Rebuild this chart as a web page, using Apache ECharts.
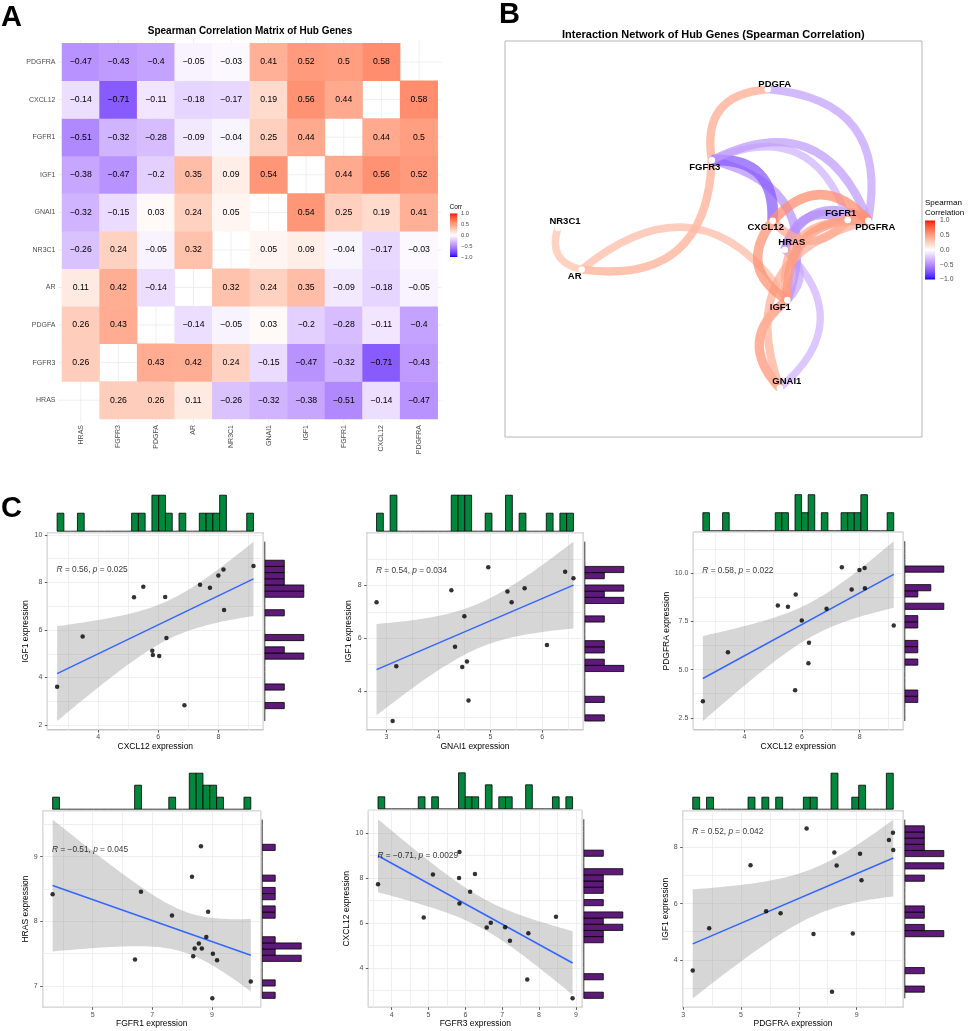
<!DOCTYPE html>
<html><head><meta charset="utf-8"><title>Hub genes</title>
<script src="https://cdn.jsdelivr.net/npm/echarts@6.0.0/dist/echarts.min.js"></script>
<style>html,body{margin:0;padding:0;background:#fff;}#chart{width:969px;height:1031px;}</style>
</head><body><div id="chart"></div>
<script>
// ================= DATA =================
const genes = ['HRAS','FGFR3','PDGFA','AR','NR3C1','GNAI1','IGF1','FGFR1','CXCL12','PDGFRA'];
// Spearman correlation rows (same gene order as columns), null on diagonal
const corrHRAS   = [null, 0.26, 0.26, 0.11, -0.26, -0.32, -0.38, -0.51, -0.14, -0.47];
const corrFGFR3  = [0.26, null, 0.43, 0.42, 0.24, -0.15, -0.47, -0.32, -0.71, -0.43];
const corrPDGFA  = [0.26, 0.43, null, -0.14, -0.05, 0.03, -0.2, -0.28, -0.11, -0.4];
const corrAR     = [0.11, 0.42, -0.14, null, 0.32, 0.24, 0.35, -0.09, -0.18, -0.05];
const corrNR3C1  = [-0.26, 0.24, -0.05, 0.32, null, 0.05, 0.09, -0.04, -0.17, -0.03];
const corrGNAI1  = [-0.32, -0.15, 0.03, 0.24, 0.05, null, 0.54, 0.25, 0.19, 0.41];
const corrIGF1   = [-0.38, -0.47, -0.2, 0.35, 0.09, 0.54, null, 0.44, 0.56, 0.52];
const corrFGFR1  = [-0.51, -0.32, -0.28, -0.09, -0.04, 0.25, 0.44, null, 0.44, 0.5];
const corrCXCL12 = [-0.14, -0.71, -0.11, -0.18, -0.17, 0.19, 0.56, 0.44, null, 0.58];
const corrPDGFRA = [-0.47, -0.43, -0.4, -0.05, -0.03, 0.41, 0.52, 0.5, 0.58, null];
const corrRows = [corrHRAS, corrFGFR3, corrPDGFA, corrAR, corrNR3C1, corrGNAI1, corrIGF1, corrFGFR1, corrCXCL12, corrPDGFRA];
const corrLegendTicks = [1.0, 0.5, 0.0, -0.5, -1.0];
const edgeThreshold = 0.3;
// network layout coordinates (layout units 0-100), gene order as `genes`
const layoutX = [67.1, 49.6, 63.0, 18.4, 12.7, 65.9, 67.7, 82.2, 64.2, 87.1];
const layoutY = [47.3, 69.9, 87.8, 42.3, 52.8, 12.4, 34.6, 54.8, 54.6, 54.6];

// scatter panels: expression values of the 16 samples
const p1x = [2.63, 3.48, 5.19, 5.50, 5.80, 5.82, 6.03, 6.23, 6.27, 6.87, 7.39, 7.72, 8.00, 8.17, 8.19, 9.17]; // CXCL12
const p1y = [3.61, 5.73, 7.38, 7.82, 5.13, 4.95, 4.91, 7.39, 5.66, 2.83, 7.91, 7.78, 8.29, 8.55, 6.84, 8.69]; // IGF1
const p2x = [2.81, 3.12, 3.19, 4.25, 4.32, 4.50, 4.46, 4.55, 4.58, 4.96, 5.33, 5.41, 5.66, 6.09, 6.44, 6.60]; // GNAI1
const p2y = [7.36, 2.86, 4.94, 7.82, 5.67, 6.83, 4.91, 5.12, 3.64, 8.69, 7.77, 7.36, 7.89, 5.74, 8.52, 8.27]; // IGF1
const p3x = [2.56, 3.43, 5.16, 5.51, 5.78, 5.76, 5.99, 6.22, 6.24, 6.85, 7.38, 7.72, 7.99, 8.17, 8.18, 9.18]; // CXCL12
const p3y = [3.36, 5.90, 8.33, 8.26, 8.90, 3.93, 7.55, 5.33, 6.40, 8.16, 10.31, 9.16, 10.17, 10.28, 9.22, 7.29]; // PDGFRA
const p4x = [3.66, 6.42, 6.62, 7.66, 8.33, 8.37, 8.42, 8.56, 8.66, 8.63, 8.81, 8.87, 9.03, 9.01, 9.17, 10.30]; // FGFR1
const p4y = [8.42, 7.41, 8.46, 8.09, 8.69, 7.46, 7.58, 7.66, 7.58, 9.16, 7.76, 8.15, 7.50, 6.81, 7.40, 7.07]; // HRAS
const p5x = [3.63, 4.87, 5.12, 5.83, 5.84, 5.84, 6.13, 6.26, 6.58, 6.69, 7.08, 7.21, 7.68, 7.71, 8.46, 8.91]; // FGFR3
const p5y = [7.72, 6.24, 8.15, 8.00, 9.16, 6.86, 7.39, 8.18, 5.79, 6.00, 5.81, 5.20, 3.48, 5.54, 6.27, 2.64]; // CXCL12
const p6x = [3.33, 3.90, 5.33, 5.87, 6.37, 7.27, 7.51, 8.15, 8.23, 8.31, 8.87, 9.12, 9.17, 10.12, 10.26, 10.27]; // PDGFRA
const p6y = [3.62, 5.12, 7.37, 5.73, 5.66, 8.68, 4.92, 2.86, 7.82, 7.36, 4.94, 7.78, 6.83, 8.27, 8.53, 7.91]; // IGF1
// tick labels
const p1xTicks = [4, 6, 8], p1yTicks = [2, 4, 6, 8, 10];
const p2xTicks = [3, 4, 5, 6], p2yTicks = [4, 6, 8, 10];
const p3xTicks = [4, 6, 8], p3yTicks = [2.5, 5.0, 7.5, 10.0];
const p4xTicks = [5, 7, 9], p4yTicks = [7, 8, 9];
const p5xTicks = [4, 5, 6, 7, 8, 9], p5yTicks = [4, 6, 8, 10];
const p6xTicks = [3, 5, 7, 9], p6yTicks = [4, 6, 8];
// correlation statistics printed in each panel
const statR = [0.56, 0.54, 0.58, -0.51, -0.71, 0.52];
const statP = ['0.025', '0.034', '0.022', '0.045', '0.0029', '0.042'];
const xNames = ['CXCL12 expression', 'GNAI1 expression', 'CXCL12 expression', 'FGFR1 expression', 'FGFR3 expression', 'PDGFRA expression'];
const yNames = ['IGF1 expression', 'IGF1 expression', 'PDGFRA expression', 'HRAS expression', 'CXCL12 expression', 'IGF1 expression'];

// ================= STYLE =================
const FONT = '"Liberation Sans", Arial, Helvetica, sans-serif';
const GREEN = '#00873E', PURPLE = '#5E1A78';
const labelDir = {PDGFA:[1,-0.75], FGFR3:[-1,1], NR3C1:[1,-1], AR:[-1,1], CXCL12:[-1,1], HRAS:[1,-1], FGFR1:[-1,-1], PDGFRA:[1,1], IGF1:[-1,1], GNAI1:[1,-1]};
const panelBoxes = [
  [47.3, 532.7, 216.0, 197.3], [366.7, 532.7, 216.6, 197.3], [693.3, 532.2, 210.0, 197.8],
  [42.7, 810.7, 218.0, 196.6], [368.3, 810.3, 214.0, 197.0], [682.7, 810.7, 220.6, 196.6]
];

// ---- ggplot-like diverging colour scale (Lab interpolation blue-white-red) ----
function rgbToLab(c){
  const lin = v => { v/=255; return v<=0.04045 ? v/12.92 : Math.pow((v+0.055)/1.055, 2.4); };
  const R=lin(c[0]), G=lin(c[1]), B=lin(c[2]);
  const X=(0.4124564*R+0.3575761*G+0.1804375*B)/0.95047, Y=0.2126729*R+0.7151522*G+0.0721750*B, Z=(0.0193339*R+0.1191920*G+0.9503041*B)/1.08883;
  const f = t => t>0.008856 ? Math.cbrt(t) : 7.787*t+16/116;
  return [116*f(Y)-16, 500*(f(X)-f(Y)), 200*(f(Y)-f(Z))];
}
function labToRgb(l){
  const fy=(l[0]+16)/116, fx=fy+l[1]/500, fz=fy-l[2]/200;
  const fi = t => t*t*t>0.008856 ? t*t*t : (t-16/116)/7.787;
  const X=fi(fx)*0.95047, Y=fi(fy), Z=fi(fz)*1.08883;
  const R=3.2404542*X-1.5371385*Y-0.4985314*Z, G=-0.9692660*X+1.8760108*Y+0.0415560*Z, B=0.0556434*X-0.2040259*Y+1.0572252*Z;
  const g = v => { v = v<=0.0031308 ? 12.92*v : 1.055*Math.pow(v,1/2.4)-0.055; return Math.round(Math.max(0,Math.min(1,v))*255); };
  return [g(R),g(G),g(B)];
}
const LAB_LOW = rgbToLab([0,0,255]), LAB_MID = rgbToLab([255,255,255]), LAB_HIGH = rgbToLab([255,0,0]);
function corrColor(v, alpha){
  const t = Math.min(1, Math.abs(v)), end = v<0 ? LAB_LOW : LAB_HIGH;
  const c = labToRgb(LAB_MID.map((m,i)=>m+(end[i]-m)*t));
  return alpha==null ? `rgb(${c[0]},${c[1]},${c[2]})` : `rgba(${c[0]},${c[1]},${c[2]},${alpha})`;
}
const NSTOP = 40;
const scaleColors = []; for (let k=0;k<=NSTOP;k++) scaleColors.push(corrColor(-1+2*k/NSTOP));
function gradient(){ const s=[]; for(let k=0;k<=NSTOP;k++) s.push({offset:k/NSTOP, color:corrColor(1-2*k/NSTOP)}); return new echarts.graphic.LinearGradient(0,0,0,1,s); }
const fmtNum = v => String(v).replace('-', '\u2212');

// ---- statistics helpers (lm fit + 95% CI, ggplot-style bins) ----
function tQuantile975(df){
  const z=1.959963985, z3=z**3, z5=z**5, z7=z**7;
  return z + (z3+z)/(4*df) + (5*z5+16*z3+3*z)/(96*df*df) + (3*z7+19*z5+17*z3-15*z)/(384*df**3);
}
function fitLM(xs, ys){
  const n=xs.length, mx=xs.reduce((a,b)=>a+b,0)/n, my=ys.reduce((a,b)=>a+b,0)/n;
  let sxx=0, sxy=0; xs.forEach((x,i)=>{sxx+=(x-mx)**2; sxy+=(x-mx)*(ys[i]-my);});
  const b=sxy/sxx, a=my-b*mx; let sse=0; xs.forEach((x,i)=>{sse+=(ys[i]-a-b*x)**2;});
  const s=Math.sqrt(sse/(n-2)), t=tQuantile975(n-2);
  const xmin=Math.min(...xs), xmax=Math.max(...xs), band=[];
  for(let k=0;k<80;k++){ const x=xmin+(xmax-xmin)*k/79, yh=a+b*x, se=s*Math.sqrt(1/n+(x-mx)**2/sxx); band.push([x, yh-t*se, yh+t*se]); }
  return {a,b,band,xmin,xmax};
}
function histBins(vals, lo, hi){
  const nb=29, w=(hi-lo)/nb, counts=new Array(nb).fill(0);
  vals.forEach(v=>{ let k=Math.ceil((v-lo)/w-1e-9)-1; k=Math.max(0,Math.min(nb-1,k)); counts[k]++; });
  return counts.map((c,k)=>[lo+k*w, lo+(k+1)*w, c]);
}
const mctx = document.createElement('canvas').getContext('2d');
function textW(t, size){ mctx.font = size+'px '+FONT; return mctx.measureText(t).width; }

// ================= OPTION =================
const option = { animation:false, backgroundColor:'#fff', textStyle:{fontFamily:FONT},
  grid:[], xAxis:[], yAxis:[], series:[], graphic:[], visualMap:[] };

// ---------- Panel A: heatmap ----------
option.grid.push({left:62, top:43.3, width:375.7, height:375.7});
option.xAxis.push({type:'category', gridIndex:0, data:genes, axisLine:{show:false}, axisTick:{show:false}, splitLine:{show:false},
  axisLabel:{rotate:90, fontSize:7, color:'#4D4D4D', margin:6}});
option.yAxis.push({type:'category', gridIndex:0, data:genes, axisLine:{show:false}, axisTick:{show:false}, splitLine:{show:false},
  axisLabel:{fontSize:7, color:'#4D4D4D', margin:6.5}});
const heatData=[]; corrRows.forEach((row,i)=>row.forEach((v,j)=>{ if(v!==null) heatData.push([j,i,v]); }));
option.series.push({type:'heatmap', xAxisIndex:0, yAxisIndex:0, data:heatData, silent:true, z:2,
  label:{show:true, fontSize:8.7, color:'#000', formatter:p=>fmtNum(p.value[2])}});
option.visualMap.push({type:'continuous', show:false, min:-1, max:1, seriesIndex:0, dimension:2, inRange:{color:scaleColors}});
// faint theme_minimal grid lines through category centres (under the tiles)
option.series.push({type:'custom', xAxisIndex:0, yAxisIndex:0, silent:true, z:1, clip:false,
  data:genes.map((g,i)=>[i,i]),
  renderItem:(p,api)=>{ const c=api.coord([api.value(0),api.value(1)]), cs=p.coordSys, ex=cs.width/genes.length*0.1;
    const st={stroke:'#EBEBEB', lineWidth:0.8};
    return {type:'group', children:[
      {type:'line', shape:{x1:c[0], y1:cs.y-ex, x2:c[0], y2:cs.y+cs.height+ex}, style:st},
      {type:'line', shape:{x1:cs.x-ex, y1:c[1], x2:cs.x+cs.width+ex, y2:c[1]}, style:st}]}; }});

// ---------- Panel B: network ----------
option.grid.push({left:505, top:41, width:417, height:396, show:true, borderColor:'#B5B5B5', borderWidth:1});
option.xAxis.push({type:'value', gridIndex:1, min:0, max:100, show:false});
option.yAxis.push({type:'value', gridIndex:1, min:0, max:100, show:false});
const nodes = genes.map((g,i)=>({name:g, value:[layoutX[i], layoutY[i]], label:{offset:[labelDir[g][0]*7, labelDir[g][1]*7]}}));
const links = [];
for(let i=0;i<genes.length;i++) for(let j=i+1;j<genes.length;j++){
  const r = corrRows[i][j];
  if(r!==null && Math.abs(r)>=edgeThreshold) links.push({source:genes[i], target:genes[j], value:r,
    lineStyle:{color:corrColor(r), width:4.5+9*Math.abs(r), curveness:0.55, opacity:0.74}});
}
option.series.push({type:'graph', coordinateSystem:'cartesian2d', xAxisIndex:1, yAxisIndex:1, data:nodes, links,
  symbolSize:6.5, itemStyle:{color:'#fff'}, silent:true, edgeSymbol:['none','none'],
  label:{show:true, position:'inside', fontSize:9.5, fontWeight:'bold', color:'#000', fontFamily:FONT}});

// ---------- Panel C: scatter plots with marginal histograms ----------
const pxs=[p1x,p2x,p3x,p4x,p5x,p6x], pys=[p1y,p2y,p3y,p4y,p5y,p6y];
const xTicksAll=[p1xTicks,p2xTicks,p3xTicks,p4xTicks,p5xTicks,p6xTicks], yTicksAll=[p1yTicks,p2yTicks,p3yTicks,p4yTicks,p5yTicks,p6yTicks];
function tickFmt(ticks){ const dec = ticks.some(t=>!Number.isInteger(t)) ? 1 : 0; return v => dec ? v.toFixed(1) : String(v); }

pxs.forEach((xs,k)=>{
  const ys=pys[k], [L,T,W,H]=panelBoxes[k], fit=fitLM(xs,ys);
  const xLo=fit.xmin, xHi=fit.xmax;
  const yLo=Math.min(...ys, ...fit.band.map(b=>b[1])), yHi=Math.max(...ys, ...fit.band.map(b=>b[2]));
  const xMin=xLo-0.05*(xHi-xLo), xMax=xHi+0.05*(xHi-xLo), yMin=yLo-0.05*(yHi-yLo), yMax=yHi+0.05*(yHi-yLo);
  const xt=xTicksAll[k], yt=yTicksAll[k], xf=tickFmt(xt), yf=tickFmt(yt);
  const yLabW=Math.max(...yt.map(v=>textW(yf(v),7)));

  const gi=option.grid.length;
  option.grid.push({left:L, top:T, width:W, height:H, show:true, backgroundColor:'#fff', borderColor:'#8C8C8C', borderWidth:1});
  const xm=option.xAxis.length, ym=option.yAxis.length;
  option.xAxis.push({type:'value', gridIndex:gi, min:xMin, max:xMax, position:'bottom',
    axisLine:{show:false}, splitLine:{show:false},
    axisTick:{show:true, length:2.5, customValues:xt, lineStyle:{color:'#333', width:0.8}},
    axisLabel:{customValues:xt, fontSize:7, color:'#4D4D4D', margin:4, formatter:xf},
    name:xNames[k], nameLocation:'middle', nameGap:12, nameTextStyle:{fontSize:8.5, color:'#000'}});
  option.yAxis.push({type:'value', gridIndex:gi, min:yMin, max:yMax, position:'left',
    axisLine:{show:false}, splitLine:{show:false},
    axisTick:{show:true, length:2.5, customValues:yt, lineStyle:{color:'#333', width:0.8}},
    axisLabel:{customValues:yt, fontSize:7, color:'#4D4D4D', margin:5, formatter:yf},
    name:yNames[k], nameLocation:'middle', nameGap:yLabW+6, nameTextStyle:{fontSize:8.5, color:'#000'}});
  // grid-line axes (major + minor ggplot lines)
  const xgs=(xt[1]-xt[0])/2, ygs=(yt[1]-yt[0])/2;
  option.xAxis.push({type:'value', gridIndex:gi, min:xMin, max:xMax, minInterval:xgs, maxInterval:xgs, position:'top',
    axisLine:{show:false}, axisTick:{show:false}, axisLabel:{show:false}, splitLine:{show:true, lineStyle:{color:'#EBEBEB', width:0.8}}});
  option.yAxis.push({type:'value', gridIndex:gi, min:yMin, max:yMax, minInterval:ygs, maxInterval:ygs, position:'right',
    axisLine:{show:false}, axisTick:{show:false}, axisLabel:{show:false}, splitLine:{show:true, lineStyle:{color:'#EBEBEB', width:0.8}}});

  // confidence band
  const band=fit.band;
  option.series.push({type:'custom', xAxisIndex:xm, yAxisIndex:ym, silent:true, z:1, clip:false,
    data:[[band[0][0], band[0][1]]],
    renderItem:(p,api)=>{ const up=band.map(b=>api.coord([b[0],b[2]])); const lo=band.map(b=>api.coord([b[0],b[1]])).reverse();
      return {type:'polygon', shape:{points:up.concat(lo)}, style:{fill:'rgba(153,153,153,0.4)'}}; }});
  // regression line
  option.series.push({type:'line', xAxisIndex:xm, yAxisIndex:ym, silent:true, z:3, symbol:'none',
    data:[[fit.xmin, fit.a+fit.b*fit.xmin],[fit.xmax, fit.a+fit.b*fit.xmax]], lineStyle:{color:'#3366FF', width:1.5}});
  // points
  option.series.push({type:'scatter', xAxisIndex:xm, yAxisIndex:ym, silent:true, z:4, symbolSize:4.5,
    itemStyle:{color:'#000'}, data:xs.map((x,i)=>[x,ys[i]])});
  // R / p annotation anchored at (min x, max y)
  option.series.push({type:'scatter', xAxisIndex:xm, yAxisIndex:ym, silent:true, z:5, symbolSize:1,
    itemStyle:{color:'rgba(0,0,0,0)'}, data:[[Math.min(...xs), Math.max(...ys)]],
    label:{show:true, position:[0,0], align:'left', verticalAlign:'top', fontSize:8.3, color:'#000', fontFamily:FONT,
      formatter:'{i|R} = '+fmtNum(statR[k])+', {i|p} = '+statP[k],
      rich:{i:{fontStyle:'italic', fontSize:8.3, color:'#000', fontFamily:FONT}}}});

  // top marginal histogram
  const binsX=histBins(xs, xLo, xHi), maxCX=Math.max(...binsX.map(b=>b[2]));
  const gt=option.grid.length;
  option.grid.push({left:L, top:T-1.5-36, width:W, height:36});
  const xta=option.xAxis.length, yta=option.yAxis.length;
  option.xAxis.push({type:'value', gridIndex:gt, min:xMin, max:xMax, show:false});
  option.yAxis.push({type:'value', gridIndex:gt, min:0, max:maxCX, show:false});
  option.series.push({type:'custom', xAxisIndex:xta, yAxisIndex:yta, silent:true, clip:false, data:binsX, encode:{x:[0,1], y:2},
    renderItem:(p,api)=>{ const a=api.coord([api.value(0),0]), b=api.coord([api.value(1),api.value(2)]);
      if(api.value(2)===0) return {type:'line', shape:{x1:a[0],y1:a[1],x2:b[0],y2:a[1]}, style:{stroke:'#000', lineWidth:0.8}};
      return {type:'rect', shape:{x:a[0], y:b[1], width:b[0]-a[0], height:a[1]-b[1]}, style:{fill:GREEN, stroke:'#000', lineWidth:0.8}}; }});

  // right marginal histogram
  const binsY=histBins(ys, yLo, yHi), maxCY=Math.max(...binsY.map(b=>b[2]));
  const gr=option.grid.length;
  option.grid.push({left:L+W+1.5, top:T, width:39, height:H});
  const xra=option.xAxis.length, yra=option.yAxis.length;
  option.xAxis.push({type:'value', gridIndex:gr, min:0, max:maxCY, show:false});
  option.yAxis.push({type:'value', gridIndex:gr, min:yMin, max:yMax, show:false});
  option.series.push({type:'custom', xAxisIndex:xra, yAxisIndex:yra, silent:true, clip:false, data:binsY, encode:{y:[0,1], x:2},
    renderItem:(p,api)=>{ const a=api.coord([0,api.value(0)]), b=api.coord([api.value(2),api.value(1)]);
      if(api.value(2)===0) return {type:'line', shape:{x1:a[0],y1:a[1],x2:a[0],y2:b[1]}, style:{stroke:'#000', lineWidth:0.8}};
      return {type:'rect', shape:{x:a[0], y:b[1], width:b[0]-a[0], height:a[1]-b[1]}, style:{fill:PURPLE, stroke:'#000', lineWidth:0.8}}; }});
});

// ---------- static texts & legends ----------
function gText(x,y,text,size,opt){ opt=opt||{};
  return {type:'text', x, y, silent:true, z:100, style:{text, fontSize:size, fontWeight:opt.bold?'bold':'normal', fontFamily:opt.family||FONT,
    fill:opt.fill||'#000', align:opt.align||'left', verticalAlign:opt.v||'top', textAlign:opt.align||'left', textVerticalAlign:opt.v||'top'}}; }
option.graphic.push(gText(1, 3, 'A', 29, {bold:true}));
option.graphic.push(gText(499, 0, 'B', 29, {bold:true}));
option.graphic.push(gText(1, 494, 'C', 29, {bold:true}));
option.graphic.push(gText(250, 31.7, 'Spearman Correlation Matrix of Hub Genes', 10, {bold:true, align:'center', v:'middle'}));
option.graphic.push(gText(713.3, 35, 'Interaction Network of Hub Genes (Spearman Correlation)', 11, {bold:true, align:'center', v:'middle'}));
// heatmap colour bar
option.graphic.push(gText(449.5, 207.5, 'Corr', 6.5, {v:'middle'}));
option.graphic.push({type:'rect', silent:true, shape:{x:450, y:213.5, width:7.3, height:43.5}, style:{fill:gradient()}});
corrLegendTicks.forEach(v=>option.graphic.push(gText(461, 213.5+(1-v)/2*43.5, fmtNum(v.toFixed(1)), 5.8, {v:'middle', fill:'#4D4D4D'})));
// network colour bar
option.graphic.push(gText(925, 203, 'Spearman', 8, {v:'middle'}));
option.graphic.push(gText(925, 212.5, 'Correlation', 8, {v:'middle'}));
option.graphic.push({type:'rect', silent:true, shape:{x:925, y:220.5, width:10, height:59}, style:{fill:gradient()}});
corrLegendTicks.forEach(v=>option.graphic.push(gText(940, 220.5+(1-v)/2*59, fmtNum(v.toFixed(1)), 6.8, {v:'middle', fill:'#4D4D4D'})));

const chart = echarts.init(document.getElementById('chart'), null, {renderer:'canvas', width:969, height:1031});
chart.setOption(option);
</script></body></html>
